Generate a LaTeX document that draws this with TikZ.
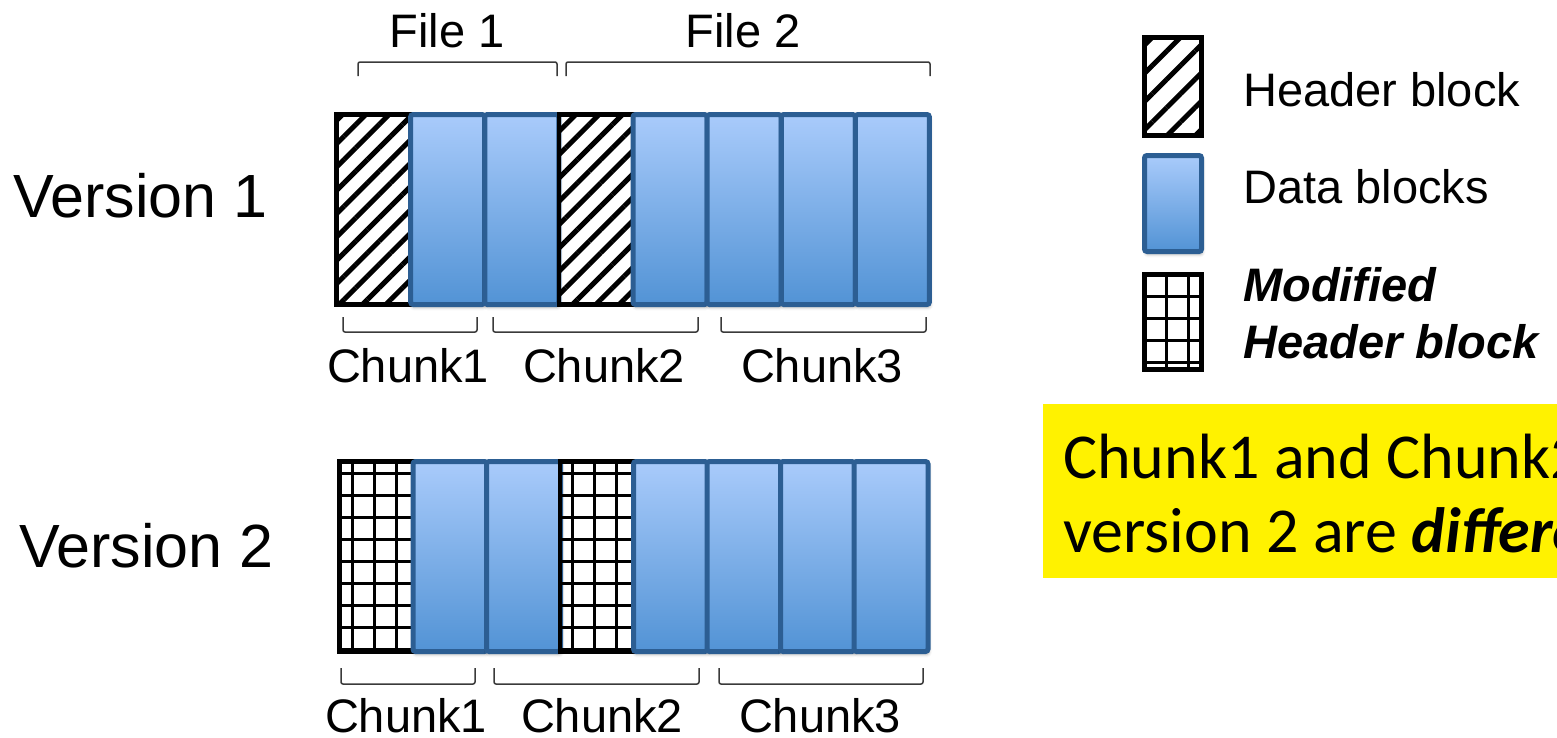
\documentclass[tikz,border=0pt]{standalone}
\usepackage{fontspec}
\setmainfont{Liberation Sans}
\newfontfamily\notefont{Carlito}
\usetikzlibrary{patterns.meta,shadows.blur}
\definecolor{blktop}{HTML}{A9CBFB}
\definecolor{blkbot}{HTML}{5293D5}
\definecolor{blkedge}{HTML}{2C5E93}
\definecolor{bracegray}{HTML}{3A3A3A}
\tikzset{
  datblk/.style={rectangle, draw=blkedge, line width=5pt, rounded corners=2.5pt, outer sep=0pt, inner sep=0pt,
    top color=blktop, bottom color=blkbot, minimum width=74pt, minimum height=190pt,
    blur shadow={shadow xshift=1pt, shadow yshift=-3pt, shadow blur radius=3pt, shadow opacity=30}},
  hdrblk/.style={rectangle, draw=black, line width=4.5pt, outer sep=0pt, inner sep=0pt,
    pattern={Lines[angle=45, distance=16.5pt, line width=5pt]}, minimum width=74pt, minimum height=190pt},
  modblk/.style={rectangle, draw=black, line width=4.5pt, outer sep=0pt, inner sep=0pt,
    preaction={pattern={Lines[angle=0, distance=22pt, line width=3pt]}},
    pattern={Lines[angle=90, distance=22pt, line width=3pt]}, minimum width=74pt, minimum height=190pt},
  bracket/.style={draw=bracegray, line width=1.5pt, rounded corners=2pt},
  lbl/.style={font=\fontsize{47}{56}\selectfont, inner sep=0pt},
  vlbl/.style={font=\fontsize{61}{72}\selectfont, inner sep=0pt, anchor=base west},
  note/.style={font=\notefont\fontsize{64}{74}\selectfont, inner sep=0pt, anchor=base west}
}
\begin{document}
\begin{tikzpicture}[x=1pt, y=-1pt]
  \useasboundingbox (0,0) rectangle (1557,737);
  \clip (0,0) rectangle (1557,737);

  % version 1
  \node[hdrblk, anchor=north west] (v1b1) at (336.5,114.5) {};
  \node[datblk, anchor=north west] (v1b2) at (410.6,114.5) {};
  \node[datblk, anchor=north west] (v1b3) at (484.75,114.5) {};
  \node[hdrblk, anchor=north west] (v1b4) at (558.9,114.5) {};
  \node[datblk, anchor=north west] (v1b5) at (633,114.5) {};
  \node[datblk, anchor=north west] (v1b6) at (707.1,114.5) {};
  \node[datblk, anchor=north west] (v1b7) at (781.25,114.5) {};
  \node[datblk, anchor=north west] (v1b8) at (855.4,114.5) {};

  % version 2
  \node[modblk, anchor=north west] (v2b1) at (339.5,461.5) {};
  \node[datblk, anchor=north west] (v2b2) at (413,461.5) {};
  \node[datblk, anchor=north west] (v2b3) at (486.5,461.5) {};
  \node[modblk, anchor=north west] (v2b4) at (560,461.5) {};
  \node[datblk, anchor=north west] (v2b5) at (633.5,461.5) {};
  \node[datblk, anchor=north west] (v2b6) at (707,461.5) {};
  \node[datblk, anchor=north west] (v2b7) at (780.5,461.5) {};
  \node[datblk, anchor=north west] (v2b8) at (854,461.5) {};

  \node[vlbl] (ver1) at (13,217) {Version 1};
  \node[vlbl] (ver2) at (19,567) {Version 2};

  % files
  \draw[bracket] (358,76) -- (358,62) -- (557,62) -- (557,76);
  \draw[bracket] (566,76) -- (566,62) -- (930,62) -- (930,76);
  \node[lbl, anchor=base] (file1) at (447,47) {File 1};
  \node[lbl, anchor=base] (file2) at (743,47) {File 2};

  % chunks
  \draw[bracket] (343,317) -- (343,332) -- (477,332) -- (477,317);
  \draw[bracket] (493,317) -- (493,332) -- (698,332) -- (698,317);
  \draw[bracket] (721,317) -- (721,332) -- (926,332) -- (926,317);
  \node[lbl, anchor=base] (c11) at (408,382) {Chunk1};
  \node[lbl, anchor=base] (c12) at (604,382) {Chunk2};
  \node[lbl, anchor=base] (c13) at (822,382) {Chunk3};

  \draw[bracket] (341,668) -- (341,684) -- (475,684) -- (475,668);
  \draw[bracket] (494,668) -- (494,684) -- (699,684) -- (699,668);
  \draw[bracket] (719,668) -- (719,684) -- (923,684) -- (923,668);
  \node[lbl, anchor=base] (c21) at (406,732) {Chunk1};
  \node[lbl, anchor=base] (c22) at (602,732) {Chunk2};
  \node[lbl, anchor=base] (c23) at (820,732) {Chunk3};

  % legend
  \node[hdrblk, anchor=north west, minimum width=57pt, minimum height=98pt,
    pattern={Lines[angle=45, distance=20pt, line width=5pt]}] (lghdr) at (1144.5,37.5) {};
  \node[datblk, anchor=north west, minimum width=57pt, minimum height=96pt] (lgdat) at (1144.5,155.5) {};
  \node[modblk, anchor=north west, minimum width=57pt, minimum height=95pt] (lgmod) at (1144.5,274.5) {};
  \node[lbl, anchor=base west] (lghdrtxt) at (1243,106) {Header block};
  \node[lbl, anchor=base west] (lgdattxt) at (1243,203) {Data blocks};
  \node[lbl, anchor=base west, font=\fontsize{47}{56}\selectfont\bfseries\itshape] (lgmodtxt1) at (1243,301) {Modified};
  \node[lbl, anchor=base west, font=\fontsize{47}{56}\selectfont\bfseries\itshape] (lgmodtxt2) at (1243,358) {Header block};

  % note
  \node[fill=yellow, anchor=north west, minimum width=560pt, minimum height=174pt, inner sep=0pt, outer sep=0pt] (notebox) at (1043,404) {};
  \node[note] (note1) at (1063,478) {Chunk1 and Chunk2 in};
  \node[note] (note2) at (1063,552) {version 2 are \textbf{\textit{dif{}fer{}ent}}};
\end{tikzpicture}
\end{document}
